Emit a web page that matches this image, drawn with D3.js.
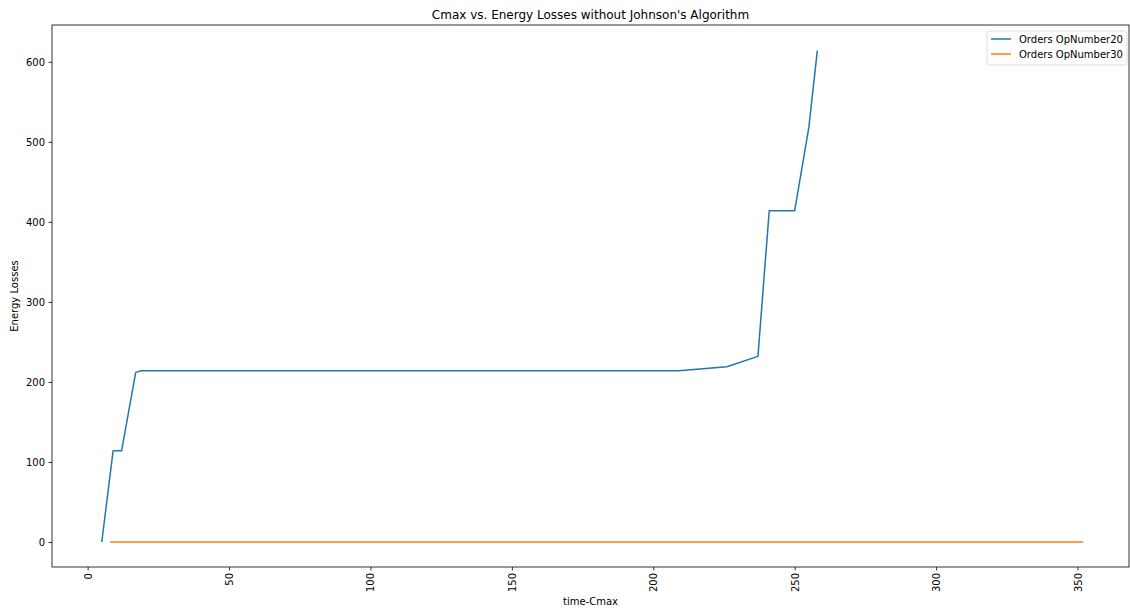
<!DOCTYPE html>
<html>
<head>
<meta charset="utf-8">
<script src="https://cdn.jsdelivr.net/npm/d3@7"></script>
<style>
  body { margin: 0; background: #fff; }
  text { font-family: "DejaVu Sans", sans-serif; fill: #000; }
</style>
</head>
<body>
<script>
(function(d3) {
  "use strict";

  /***** Data *****/
  const seriesNames = ["Orders OpNumber20", "Orders OpNumber30"];
  const cmax20 = [5, 9, 12, 17, 19, 50, 100, 150, 200, 209, 226, 237, 241, 250, 255, 258];
  const energy20 = [0, 114, 114, 212, 214, 214, 214, 214, 214, 214, 219, 232, 414, 414, 518, 614];
  const cmax30 = [8, 50, 100, 150, 200, 250, 300, 352];
  const energy30 = [0, 0, 0, 0, 0, 0, 0, 0];
  const xTicks = [0, 50, 100, 150, 200, 250, 300, 350];
  const yTicks = [0, 100, 200, 300, 400, 500, 600];
  const colors = ["#1f77b4", "#ff7f0e"];

  /***** Configuration *****/
  const W = 1130, H = 608;
  const margin = { top: 25, right: 1, bottom: 41, left: 52 };
  const width = W - margin.left - margin.right;
  const height = H - margin.top - margin.bottom;

  const x = d3.scaleLinear().domain([-12.6, 368.2]).range([0, width]);
  const y = d3.scaleLinear().domain([-31.2, 646]).range([height, 0]);

  const svg = d3.select("body").append("svg")
    .attr("width", W)
    .attr("height", H);

  const g = svg.append("g")
    .attr("transform", "translate(" + margin.left + "," + margin.top + ")");

  // Lines
  const sources = [
    { name: seriesNames[0], values: cmax20.map((c, i) => [c, energy20[i]]) },
    { name: seriesNames[1], values: cmax30.map((c, i) => [c, energy30[i]]) }
  ];
  const line = d3.line().x(d => x(d[0])).y(d => y(d[1]));

  g.selectAll(".series")
    .data(sources)
    .enter().append("path")
    .attr("class", "series")
    .attr("fill", "none")
    .attr("stroke", (d, i) => colors[i])
    .attr("stroke-width", 1.5)
    .attr("stroke-linejoin", "round")
    .attr("d", d => line(d.values));

  // Axes
  const xAxis = g.append("g")
    .attr("transform", "translate(0," + height + ")")
    .call(d3.axisBottom(x).tickValues(xTicks).tickSize(3.5).tickPadding(3));
  xAxis.selectAll("text")
    .attr("transform", "rotate(-90)")
    .attr("text-anchor", "end")
    .attr("x", -6)
    .attr("y", 0)
    .attr("dy", "0.35em")
    .style("font-size", "10px");

  const yAxis = g.append("g")
    .call(d3.axisLeft(y).tickValues(yTicks).tickSize(3.5).tickPadding(3.5));
  yAxis.selectAll("text").style("font-size", "10px");

  g.selectAll(".domain").remove();
  g.selectAll(".tick line").attr("stroke", "#000").attr("stroke-width", 0.8);
  g.selectAll(".tick text").attr("fill", "#000");

  // Frame
  g.append("rect")
    .attr("width", width)
    .attr("height", height)
    .attr("fill", "none")
    .attr("stroke", "#000")
    .attr("stroke-width", 0.8);

  // Labels
  svg.append("text")
    .attr("x", margin.left + width / 2)
    .attr("y", 19)
    .attr("text-anchor", "middle")
    .style("font-size", "12px")
    .text("Cmax vs. Energy Losses without Johnson's Algorithm");

  svg.append("text")
    .attr("x", margin.left + width / 2)
    .attr("y", 605)
    .attr("text-anchor", "middle")
    .style("font-size", "10px")
    .text("time-Cmax");

  svg.append("text")
    .attr("transform", "translate(18," + (margin.top + height / 2) + ") rotate(-90)")
    .attr("text-anchor", "middle")
    .style("font-size", "10px")
    .text("Energy Losses");

  // Legend
  const legend = svg.append("g").attr("transform", "translate(987,31)");
  legend.append("rect")
    .attr("width", 140)
    .attr("height", 34)
    .attr("rx", 2.5)
    .attr("fill", "#fff")
    .attr("fill-opacity", 0.8)
    .attr("stroke", "#d6d6d6")
    .attr("stroke-width", 0.8);

  const item = legend.selectAll(".item")
    .data(sources)
    .enter().append("g")
    .attr("transform", (d, i) => "translate(0," + (8 + i * 15) + ")");
  item.append("line")
    .attr("x1", 4).attr("x2", 24)
    .attr("stroke", (d, i) => colors[i])
    .attr("stroke-width", 1.5);
  item.append("text")
    .attr("x", 32)
    .attr("dy", "0.35em")
    .style("font-size", "10px")
    .text(d => d.name);
})(d3);
</script>
</body>
</html>
